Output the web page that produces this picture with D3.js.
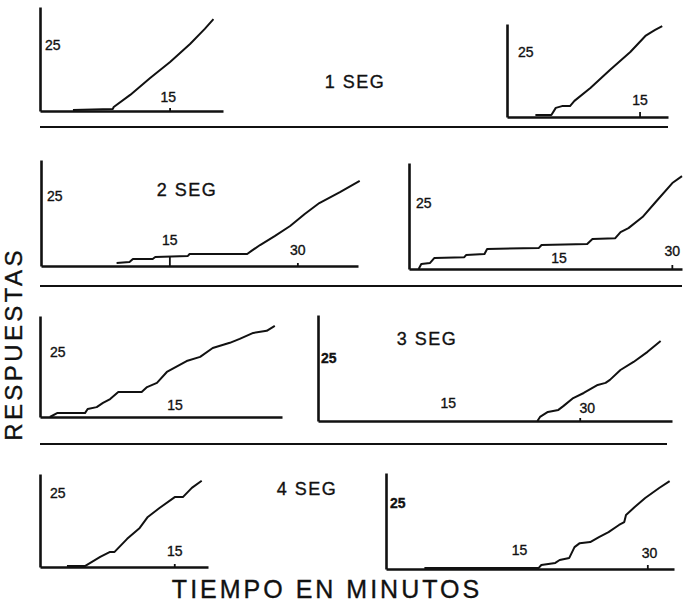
<!DOCTYPE html>
<html>
<head>
<meta charset="utf-8">
<script src="https://cdn.jsdelivr.net/npm/d3@7"></script>
<style>
body{margin:0;background:#fff}
text{font-family:"Liberation Sans",Arial,sans-serif;fill:#111;stroke:#111;stroke-width:0.35px}
</style>
</head>
<body>
<div class="canvas"></div>
<script>
const canvasWidth=684, canvasHeight=606;

// cumulative records: time in minutes, cumulative responses
const seg1aT=[3.8,8.4,8.5,10.4,12.7,15.0,17.3,19.0,20.0];
const seg1aR=[0.4,0.8,1.5,6.1,12.5,18.6,25.4,31.1,34.8];
const seg1bT=[3.2,5.0,5.5,6.2,7.1,7.6,9.4,11.6,13.9,15.6,16.1,16.7,17.5];
const seg1bR=[0.8,0.8,3.5,4.2,4.2,6.2,11.2,18.1,25.0,31.2,32.3,33.5,35.0];
const seg2aT=[8.8,10.3,10.7,13.0,13.3,17.1,17.3,24.0,24.5,25.5,27.2,29.0,30.7,32.4,34.8,37.1];
const seg2aR=[1.1,1.4,2.5,2.5,3.2,3.6,4.3,4.3,5.4,7.5,10.7,14.3,18.6,22.5,26.4,30.4];
const seg2bT=[1.1,1.4,2.4,2.9,6.3,6.5,8.6,8.9,14.8,15.1,20.3,20.9,23.5,24.1,25.0,26.6,28.1,30.0,31.1];
const seg2bR=[0,1.9,2.3,4.2,4.5,5.3,5.7,7.6,8.0,9.1,9.5,11.4,11.7,14.0,15.5,19.7,25.4,32.6,35.2];
const seg3aT=[1.1,1.9,5.0,5.3,6.3,7.0,7.8,8.7,11.3,11.9,13.0,14.1,16.3,17.8,19.2,21.1,22.2,23.7,25.2,26.1];
const seg3aR=[0,1.5,1.5,3.1,3.8,5.4,6.9,9.6,9.6,11.5,13.1,17.3,21.5,23.1,26.5,28.5,30.0,32.3,33.1,35.0];
const seg3bT=[25.1,25.4,26.3,27.5,28.1,29.2,30.4,32.0,32.9,33.4,34.6,36.1,37.7,39.2];
const seg3bR=[0,1.6,3.6,4.4,6.0,9.1,11.1,14.3,15.1,16.3,20.2,23.4,27.4,31.7];
const seg4aT=[3.0,5.0,6.7,7.8,8.3,9.7,11.1,12.0,13.3,15.0,15.9,16.9,18.0];
const seg4aR=[0.3,0.3,3.4,5.1,5.1,9.5,13.2,16.9,19.9,23.6,23.6,26.7,29.1];
const seg4bT=[4.4,17.5,17.8,19.4,19.9,21.0,21.6,22.2,23.4,24.4,25.5,26.7,27.3,27.5,28.5,29.7,31.3,32.5];
const seg4bR=[0.4,0.4,1.5,2.3,3.4,4.2,8.3,9.8,10.2,12.1,14.0,16.7,17.8,20.5,23.5,26.9,30.7,33.3];

const titles=["1 SEG","2 SEG","3 SEG","4 SEG"];
const yTickValue=25;

// panel layout (pixel boxes) and where each label sits
const panels=[
 {t:seg1aT,r:seg1aR,xr:[40,223],xd:21.1,yr:[111,7],yd:39.4,ticks:[[15,3]],labs:[[14.8,"15",9]],yl:[5,false]},
 {t:seg1bT,r:seg1bR,xr:[507,668],xd:18.15,yr:[117,24],yd:35.8,ticks:[[15,5]],labs:[[15,"15",12]],yl:[11,false]},
 {t:seg2aT,r:seg2aR,xr:[41,358],xd:36.9,yr:[266,160],yd:37.9,ticks:[[15,9],[29.9,3]],labs:[[15,"15",21],[29.9,"30",11]],yl:[6,false]},
 {t:seg2bT,r:seg2bR,xr:[409,682],xd:31.1,yr:[269,163],yd:40.2,ticks:[[30,4]],labs:[[17.1,"15",6],[30,"30",13]],yl:[7,false]},
 {t:seg3aT,r:seg3aR,xr:[40,282],xd:26.9,yr:[417,316],yd:38.8,ticks:[],labs:[[15,"15",7]],yl:[10,false]},
 {t:seg3bT,r:seg3bR,xr:[318,672],xd:40.5,yr:[421,315],yd:42,ticks:[[30,3]],labs:[[14.9,"15",13],[30.8,"30",8]],yl:[3,true]},
 {t:seg4aT,r:seg4aR,xr:[40,208],xd:18.7,yr:[567,474],yd:31.4,ticks:[[15,3]],labs:[[15,"15",11]],yl:[10,false]},
 {t:seg4bT,r:seg4bR,xr:[386,674],xd:33,yr:[569,473],yd:36.4,ticks:[[30,4]],labs:[[15.3,"15",14],[30.2,"30",11]],yl:[4,true]}
];
const titlePos=[[355,88],[187,196],[427,345],[307,495]];
const separators=[[40,668,127],[40,682,286],[40,667,444]];

const svg=d3.select(".canvas").append("svg")
  .attr("width",canvasWidth).attr("height",canvasHeight)
  .style("background-color","white");

panels.forEach(p=>{
  const x=d3.scaleLinear().domain([0,p.xd]).range(p.xr);
  const y=d3.scaleLinear().domain([0,p.yd]).range(p.yr);
  const g=svg.append("g");

  const xAxis=d3.axisBottom(x).tickValues([]).tickSizeOuter(0);
  g.append("g").attr("transform",`translate(0,${p.yr[0]})`).call(xAxis)
    .select(".domain").attr("stroke","#111").attr("stroke-width",2.6);
  const yAxis=d3.axisLeft(y).tickValues([]).tickSizeOuter(0);
  g.append("g").attr("transform",`translate(${p.xr[0]},0)`).call(yAxis)
    .select(".domain").attr("stroke","#111").attr("stroke-width",2.6);

  // small tick marks on the time axis
  g.selectAll("line.tk").data(p.ticks).enter().append("line")
    .attr("x1",d=>x(d[0])).attr("x2",d=>x(d[0]))
    .attr("y1",p.yr[0]).attr("y2",d=>p.yr[0]-d[1])
    .attr("stroke","#111").attr("stroke-width",1.8);

  g.selectAll("text.xl").data(p.labs).enter().append("text")
    .attr("x",d=>x(d[0])).attr("y",d=>p.yr[0]-d[2])
    .attr("text-anchor","middle").style("font-size","14px").text(d=>d[1]);

  g.append("text").attr("x",p.xr[0]+p.yl[0]).attr("y",y(yTickValue)+5)
    .style("font-size","14px").style("font-weight",p.yl[1]?"bold":"normal")
    .text(String(yTickValue));

  const line=d3.line().x(d=>x(d[0])).y(d=>y(d[1]));
  g.append("path").datum(d3.zip(p.t,p.r))
    .attr("d",line).attr("fill","none")
    .attr("stroke","#111").attr("stroke-width",2).attr("stroke-linejoin","round");
});

svg.selectAll("line.sep").data(separators).enter().append("line")
  .attr("x1",d=>d[0]).attr("x2",d=>d[1]).attr("y1",d=>d[2]).attr("y2",d=>d[2])
  .attr("stroke","#111").attr("stroke-width",2.2);

svg.selectAll("text.title").data(titles).enter().append("text")
  .attr("x",(d,i)=>titlePos[i][0]).attr("y",(d,i)=>titlePos[i][1])
  .attr("text-anchor","middle").style("font-size","18px").style("letter-spacing","1.5px")
  .text(d=>d);

svg.append("text").attr("x",327).attr("y",598).attr("text-anchor","middle")
  .style("font-size","25px").style("letter-spacing","3px").text("TIEMPO EN MINUTOS");

svg.append("text").attr("transform","translate(22,344) rotate(-90)").attr("text-anchor","middle")
  .style("font-size","24px").style("letter-spacing","3.4px").text("RESPUESTAS");
</script>
</body>
</html>
